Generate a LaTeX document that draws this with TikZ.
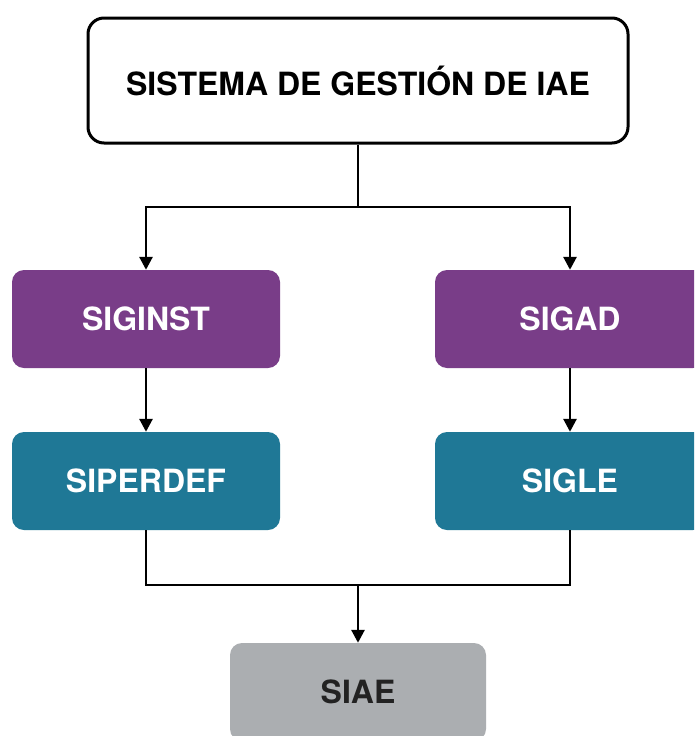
\documentclass[tikz,border=0pt]{standalone}
\usepackage{fontspec}
\setmainfont{TeX Gyre Heros}
\usetikzlibrary{arrows.meta}
\definecolor{cpurple}{HTML}{793D88}
\definecolor{cteal}{HTML}{1F7896}
\definecolor{cgray}{HTML}{ABAEB1}
\definecolor{cdark}{HTML}{222222}
\tikzset{
  box/.style={rounded corners=12pt, minimum width=268pt, minimum height=98pt, inner sep=0pt,
    font=\fontsize{32}{36}\selectfont\bfseries, text=white},
  purplebox/.style={box, fill=cpurple},
  tealbox/.style={box, fill=cteal},
  graybox/.style={box, fill=cgray, minimum width=256pt, text=cdark},
  conn/.style={line width=2.8pt, draw=black},
  arr/.style={conn, -{Triangle[width=13pt,length=13pt]}},
}
\begin{document}
\begin{tikzpicture}[x=1pt,y=-1pt]
\useasboundingbox (0,0) rectangle (694,736);
\clip (0,0) rectangle (694,736);
\fill[white] (0,0) rectangle (694,736);
\node[draw=black, line width=3pt, rounded corners=16pt, minimum width=540pt, minimum height=125pt,
  inner sep=0pt, font=\fontsize{32}{36}\selectfont\bfseries, text=black] (top) at (358,80.5) {SISTEMA DE GESTIÓN DE IAE};
\node[purplebox] (siginst) at (146,319) {SIGINST};
\node[purplebox, minimum width=270pt] (sigad) at (570,319) {SIGAD};
\node[tealbox] (siperdef) at (146,481) {SIPERDEF};
\node[tealbox, minimum width=270pt] (sigle) at (570,481) {SIGLE};
\node[graybox] (siae) at (358,692) {SIAE};
\coordinate (j1) at (358,207);
\coordinate (j2) at (358,585);
\draw[conn] (top.south) -- (j1);
\draw[arr] (j1) -| (siginst.north);
\draw[arr] (j1) -| (sigad.north);
\draw[arr] (siginst.south) -- (siperdef.north);
\draw[arr] (sigad.south) -- (sigle.north);
\draw[conn] (siperdef.south) |- (j2) -| (sigle.south);
\draw[arr] (j2) -- (siae.north);
\end{tikzpicture}
\end{document}
